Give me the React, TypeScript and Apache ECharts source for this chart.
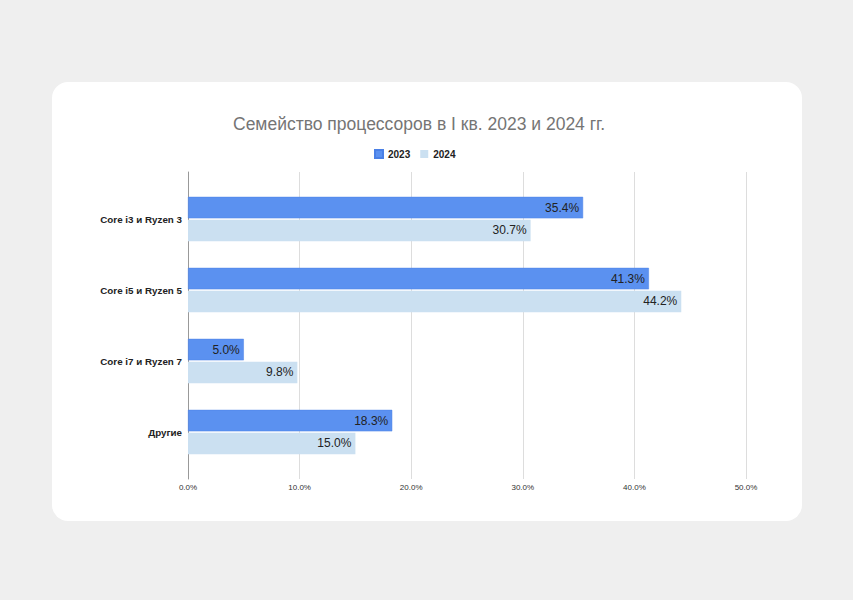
import React, { useEffect, useRef } from "react";
import * as echarts from "echarts";

const categories = ["Core i3 и Ryzen 3", "Core i5 и Ryzen 5", "Core i7 и Ryzen 7", "Другие"];
const series2023 = [35.4, 41.3, 5.0, 18.3];
const series2024 = [30.7, 44.2, 9.8, 15.0];
const seriesNames = ["2023", "2024"];
const tickMax = 50;
const tickStep = 10;
const titleText = "Семейство процессоров в I кв. 2023 и 2024 гг.";

export default function App() {
  const ref = useRef<HTMLDivElement>(null);
  useEffect(() => {
    document.body.style.margin = "0";
    const chart = echarts.init(ref.current!, null, { renderer: "svg" });
    const font = "'Liberation Sans', Arial, sans-serif";
    const labelStyle = {
      show: true,
      position: "insideRight" as const,
      distance: 4,
      color: "#222",
      fontSize: 12,
      fontFamily: font,
      formatter: (p: any) => p.value.toFixed(1) + "%",
    };
    chart.setOption({
      animation: false,
      backgroundColor: "#efefef",
      textStyle: { fontFamily: font },
      graphic: [
        {
          type: "rect",
          z: -10,
          shape: { x: 52, y: 82, width: 750, height: 439, r: 16 },
          style: { fill: "#ffffff" },
          silent: true,
        },
      ],
      title: {
        text: titleText,
        left: 228,
        top: 110,
        textStyle: { fontSize: 17.5, fontWeight: "normal", color: "#757575", fontFamily: font },
      },
      legend: {
        data: seriesNames,
        top: 144,
        left: 369,
        itemWidth: 8,
        itemHeight: 8,
        itemGap: 10,
        icon: "rect",
        textStyle: { fontSize: 10, fontWeight: 600, color: "#222", fontFamily: font },
      },
      grid: [
        { left: 188, right: 107, top: 172, height: 307, containLabel: false },
        { left: 188, right: 107, top: 183.5, height: 284, containLabel: false },
      ],
      xAxis: [
        {
          gridIndex: 0,
          type: "value",
          min: 0,
          max: tickMax,
          interval: tickStep,
          axisLine: { show: false },
          axisTick: { show: false },
          splitLine: { show: true, lineStyle: { color: "#dddddd", width: 1 } },
          axisLabel: {
            fontSize: 8,
            color: "#333",
            margin: 4,
            formatter: (v: number) => v.toFixed(1) + "%",
          },
        },
        {
          gridIndex: 1,
          type: "value",
          min: 0,
          max: tickMax,
          show: false,
        },
      ],
      yAxis: [
        {
          gridIndex: 0,
          type: "value",
          min: 0,
          max: 1,
          axisLine: { show: true, onZero: false, lineStyle: { color: "#999", width: 1 } },
          axisTick: { show: false },
          axisLabel: { show: false },
          splitLine: { show: false },
        },
        {
          gridIndex: 1,
          type: "category",
          data: categories,
          inverse: true,
          axisLine: { show: false },
          axisTick: { show: false },
          axisLabel: { fontSize: 9.8, fontWeight: "bold", color: "#222", margin: 6, fontFamily: font },
        },
      ],
      series: [
        {
          name: seriesNames[0],
          type: "bar",
          xAxisIndex: 1,
          yAxisIndex: 1,
          data: series2023,
          barWidth: 21.5,
          barGap: "6%",
          itemStyle: { color: "#5b91f0", borderColor: "#4a80e6", borderWidth: 0.5 },
          label: labelStyle,
        },
        {
          name: seriesNames[1],
          type: "bar",
          xAxisIndex: 1,
          yAxisIndex: 1,
          data: series2024,
          barWidth: 21.5,
          itemStyle: { color: "#cbe0f1" },
          label: labelStyle,
        },
      ],
    });
    return () => chart.dispose();
  }, []);
  return <div ref={ref} style={{ width: 853, height: 600 }} />;
}
